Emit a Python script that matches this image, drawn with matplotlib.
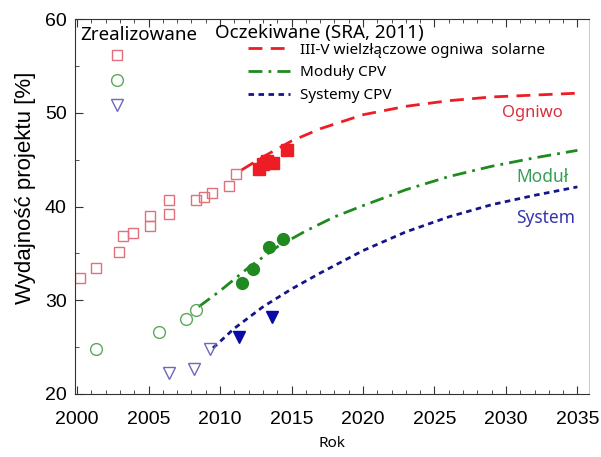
import matplotlib.pyplot as plt
from matplotlib.lines import Line2D
from matplotlib.font_manager import FontProperties

# Realised efficiencies (open = older records, filled = recent)
cell_years = [2000.2, 2001.3, 2002.9, 2003.2, 2003.9, 2005.1, 2005.1, 2006.4, 2006.4,
              2008.3, 2008.9, 2009.4, 2010.6, 2011.1]
cell_eff = [32.4, 33.4, 35.1, 36.9, 37.2, 37.9, 39.0, 39.2, 40.7,
            40.7, 41.0, 41.4, 42.2, 43.5]
cell_new_years = [2012.7, 2013.0, 2013.3, 2013.7, 2014.7]
cell_new_eff = [44.0, 44.5, 44.9, 44.6, 46.0]

module_years = [2001.3, 2005.7, 2007.6, 2008.3]
module_eff = [24.8, 26.6, 28.0, 29.0]
module_new_years = [2011.5, 2012.3, 2013.4, 2014.4]
module_new_eff = [31.8, 33.3, 35.7, 36.5]

system_years = [2006.4, 2008.2, 2009.3]
system_eff = [22.2, 22.7, 24.8]
system_new_years = [2011.3, 2013.6]
system_new_eff = [26.1, 28.2]

# Expected trends (SRA, 2011)
cell_proj_years = [2011.5, 2013, 2015, 2017, 2020, 2023, 2026, 2029, 2032, 2035]
cell_proj = [43.9, 45.3, 47.0, 48.3, 49.8, 50.7, 51.3, 51.7, 51.9, 52.1]
module_proj_years = [2008.5, 2010, 2012, 2014, 2016, 2018, 2020, 2023, 2026, 2029, 2032, 2035]
module_proj = [29.3, 31.0, 33.5, 35.7, 37.4, 38.9, 40.1, 41.8, 43.2, 44.3, 45.2, 46.0]
system_proj_years = [2009.5, 2011, 2013, 2015, 2017, 2020, 2023, 2026, 2029, 2032, 2035]
system_proj = [24.9, 27.0, 29.3, 31.2, 32.9, 35.3, 37.3, 38.9, 40.2, 41.2, 42.1]

proj_labels = ['III-V wielzłączowe ogniwa  solarne', 'Moduły CPV', 'Systemy CPV']
curve_labels = ['Ogniwo', 'Moduł', 'System']

red, green, blue = '#ee1c25', '#1f8a1f', '#14148c'
font = 'Noto Sans'

fig = plt.figure(figsize=(6.01, 4.57), dpi=100)
ax = fig.add_axes([0.1248, 0.138, 0.855, 0.820])

l1, = ax.plot(cell_proj_years, cell_proj, color=red, lw=2, dashes=(5, 3))
l2, = ax.plot(module_proj_years, module_proj, color=green, lw=2, dashes=(5, 2.2, 1, 2.2))
l3, = ax.plot(system_proj_years, system_proj, color=blue, lw=2, dashes=(2, 1.6))

ax.plot(cell_years, cell_eff, 's', ms=7.5, mfc='none', mec='#e0707a', mew=1)
ax.plot(cell_new_years, cell_new_eff, 's', ms=8, color=red)
ax.plot(module_years, module_eff, 'o', ms=8.5, mfc='none', mec='#5aa85a', mew=1)
ax.plot(module_new_years, module_new_eff, 'o', ms=8.5, color=green)
ax.plot(system_years, system_eff, 'v', ms=9, mfc='none', mec='#6a6ab8', mew=1)
ax.plot(system_new_years, system_new_eff, 'v', ms=9, color='#0a0aa8')

# curve names on the right
ax.text(2034.0, 50.0, curve_labels[0], color='#d8303e', fontsize=12, family=font,
        ha='right', va='center')
ax.text(2034.4, 43.15, curve_labels[1], color='#35a055', fontsize=12.5, family=font,
        ha='right', va='center')
ax.text(2034.85, 38.8, curve_labels[2], color='#3535b0', fontsize=12.5, family=font,
        ha='right', va='center')

# legend headers
ax.text(0.01, 0.957, 'Zrealizowane', transform=ax.transAxes, fontsize=13.5,
        family=font, va='center')
ax.text(0.272, 0.963, 'Oczekiwane (SRA, 2011)', transform=ax.transAxes, fontsize=13.5,
        family=font, va='center')

# legend for realised points (markers only)
done = [Line2D([], [], ls='none', marker='s', ms=7.5, mfc='none', mec='#e0707a'),
        Line2D([], [], ls='none', marker='o', ms=8.5, mfc='none', mec='#5aa85a'),
        Line2D([], [], ls='none', marker='v', ms=9, mfc='none', mec='#6a6ab8')]
leg1 = ax.legend(done, ['', '', ''], loc='center', bbox_to_anchor=(0.0817, 0.835),
                 frameon=False, handlelength=1.0, handletextpad=0, labelspacing=0.8,
                 borderpad=0, borderaxespad=0)
ax.add_artist(leg1)

ax.legend([l1, l2, l3], proj_labels, loc='center left', bbox_to_anchor=(0.3366, 0.857),
          frameon=False, handlelength=2.75, handletextpad=0.65, labelspacing=0.5,
          borderpad=0, borderaxespad=0, prop=FontProperties(family=font, size=11))

ax.set_xlim(1999.85, 2035.8)
ax.set_ylim(20, 60)
ax.set_xticks(range(2000, 2036, 5))
ax.set_xticks(range(2000, 2036), minor=True)
ax.set_yticks([20, 30, 40, 50, 60])
ax.set_yticks([25, 35, 45, 55], minor=True)
ax.tick_params(which='both', direction='in', top=True, right=False,
               labelsize=14, color='#333333')
ax.tick_params(which='major', length=6)
ax.tick_params(which='minor', length=3)
ax.tick_params(axis='x', which='major', pad=12)
ax.tick_params(axis='y', which='major', pad=6)
for lab in ax.get_xticklabels() + ax.get_yticklabels():
    lab.set_family('Liberation Sans')

for side in ['left', 'bottom', 'top']:
    ax.spines[side].set_color('#333333')
ax.spines['right'].set_color('#cccccc')

ax.set_ylabel('Wydajność projektu [%]', fontsize=16, family='Liberation Sans')
ax.yaxis.set_label_coords(-0.076, 0.549)
ax.set_xlabel('Rok', fontsize=11, family=font, labelpad=6)

fig.savefig('out.png', dpi=100)
